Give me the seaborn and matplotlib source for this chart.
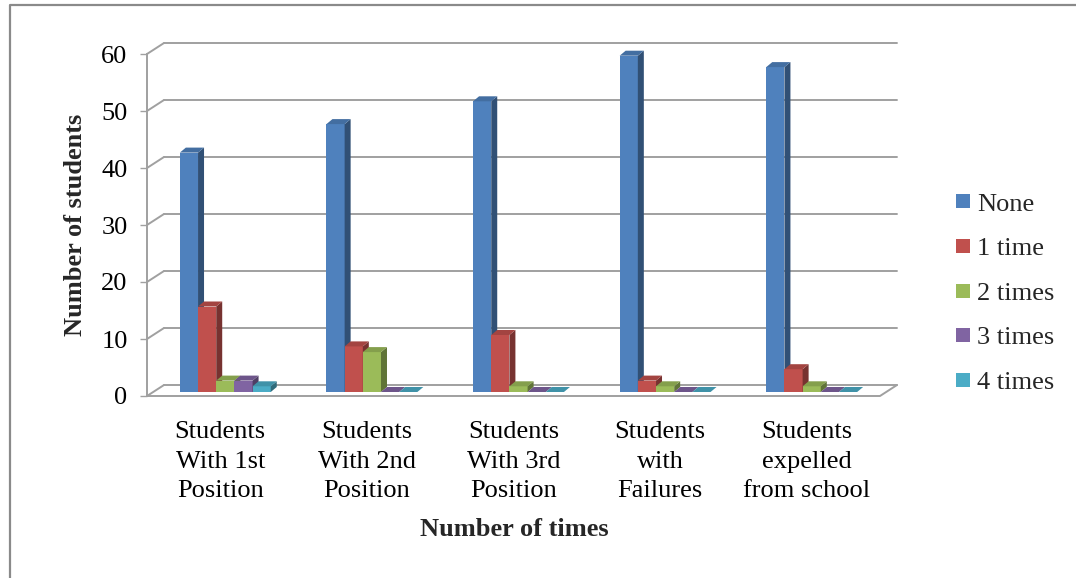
import numpy as np
import pandas as pd
import matplotlib
matplotlib.use("Agg")
import matplotlib.pyplot as plt
from matplotlib.patches import Polygon
from matplotlib.lines import Line2D
from matplotlib.transforms import offset_copy, IdentityTransform
from matplotlib.colors import to_rgb
import seaborn as sns

# ---- data ----
categories = [
    "Students\nWith 1st\nPosition",
    "Students\nWith 2nd\nPosition",
    "Students\nWith 3rd\nPosition",
    "Students\nwith\nFailures",
    "Students\nexpelled\nfrom school",
]
frequencies = ["None", "1 time", "2 times", "3 times", "4 times"]
none_counts = [42, 47, 51, 59, 57]
one_time = [15, 8, 10, 2, 4]
two_times = [2, 7, 1, 1, 1]
three_times = [2, 0, 0, 0, 0]
four_times = [1, 0, 0, 0, 0]
yticks = [0, 10, 20, 30, 40, 50, 60]

colors = ["#4F81BD", "#C0504D", "#9BBB59", "#8064A2", "#4BACC6"]

series = [none_counts, one_time, two_times, three_times, four_times]
df = pd.DataFrame(
    [(c, f, v) for f, vals in zip(frequencies, series) for c, v in zip(categories, vals)],
    columns=["category", "frequency", "count"],
)

sns.set_theme(style="white")
plt.rcParams["font.family"] = ["Liberation Serif", "DejaVu Serif"]

FS = 19
W, H = 1076, 578
fig = plt.figure(figsize=(W / 100, H / 100), dpi=100)
fig.patch.set_facecolor("white")

# front plane of the plot area, in pixels
x_left, x_right, y_base, y_top = 147, 880, 396, 54
ax = fig.add_axes([x_left / W, (H - y_base) / H, (x_right - x_left) / W, (y_base - y_top) / H])

sns.barplot(
    data=df, x="category", y="count", hue="frequency", hue_order=frequencies,
    order=categories, palette=colors, width=0.62, saturation=1, errorbar=None,
    legend=False, ax=ax, edgecolor="none", linewidth=0,
)
ax.set_xlim(-0.5, len(categories) - 0.5)
ax.set_ylim(0, 60)
ax.set_facecolor("none")

grid_col = "#a0a0a0"
# back wall offset and bar depth, in pixels
wall = offset_copy(ax.transData, fig=fig, x=17, y=11, units="dots")
bar_tr = offset_copy(ax.transData, fig=fig, x=5, y=4, units="dots")
depth = np.array([6.0, 5.0])

x0, x1 = ax.get_xlim()
for t in yticks:
    # gridline on the back wall
    ax.add_line(Line2D([x0, x1], [t, t], transform=wall, color=grid_col, lw=1.4, zorder=0.5, clip_on=False))
    # connector on the left side wall
    p_front = ax.transData.transform((x0, t))
    p_back = wall.transform((x0, t))
    ax.add_line(Line2D([p_front[0], p_back[0]], [p_front[1], p_back[1]], transform=IdentityTransform(),
                       color=grid_col, lw=1.4, zorder=0.5, clip_on=False))

# floor: front edge and right edge
pf0 = ax.transData.transform((x0, 0))
pf1 = ax.transData.transform((x1, 0))
pb1 = wall.transform((x1, 0))
ax.add_line(Line2D([pf0[0], pf1[0], pb1[0]], [pf0[1], pf1[1], pb1[1]], transform=IdentityTransform(),
                   color=grid_col, lw=1.4, zorder=0.6, clip_on=False))


def shade(c, f):
    r, g, b = to_rgb(c)
    return (r * f, g * f, b * f)


bars = sorted(ax.patches, key=lambda p: p.get_x())
for i, p in enumerate(bars):
    z = 2 + i * 0.01
    p.set_transform(bar_tr)
    p.set_clip_on(False)
    p.set_zorder(z)
    fc = p.get_facecolor()
    bx, by, bw, bh = p.get_x(), p.get_y(), p.get_width(), p.get_height()
    br = bar_tr.transform((bx + bw, by))
    tr = bar_tr.transform((bx + bw, by + bh))
    tl = bar_tr.transform((bx, by + bh))
    side = Polygon([br, br + depth, tr + depth, tr], closed=True, transform=IdentityTransform(),
                   facecolor=shade(fc, 0.62), edgecolor="none", zorder=z, clip_on=False)
    top = Polygon([tl, tr, tr + depth, tl + depth], closed=True, transform=IdentityTransform(),
                  facecolor=shade(fc, 0.85), edgecolor="none", zorder=z, clip_on=False)
    ax.add_patch(side)
    ax.add_patch(top)

# axes styling
for s in ["top", "right", "bottom"]:
    ax.spines[s].set_visible(False)
ax.spines["left"].set_color(grid_col)
ax.spines["left"].set_linewidth(1.4)
ax.set_yticks(yticks)
ax.tick_params(axis="y", length=5, width=1.0, color=grid_col, pad=9, labelsize=FS, left=True, labelcolor="black")
ax.tick_params(axis="x", length=0, pad=18, labelsize=FS, labelcolor="black")
for lab in ax.get_xticklabels():
    lab.set_linespacing(1.45)
ax.set_xlabel("")
ax.set_ylabel("")
ax.grid(False)

fig.text(514 / W, 1 - 530 / H, "Number of times", ha="center", va="center", fontsize=FS, fontweight="bold")
fig.text(75 / W, 1 - 225 / H, "Number of students", ha="center", va="center", rotation=90,
         fontsize=FS, fontweight="bold")

handles = [Line2D([], [], marker="s", linestyle="none", markersize=10, markerfacecolor=c,
                  markeredgewidth=0) for c in colors]
fig.legend(handles, frequencies, loc="center left", bbox_to_anchor=(955 / W, 1 - 293 / H),
           frameon=False, fontsize=FS, handlelength=0.6, handletextpad=0.25, labelspacing=0.8,
           borderpad=0, borderaxespad=0)

# outer frame (left and top edges)
fig.add_artist(Line2D([10 / W, 10 / W, 1.0], [0.0, 1 - 5 / H, 1 - 5 / H], transform=fig.transFigure,
                      color="#8a8a8a", lw=1.6))

fig.savefig("out.png", dpi=100)
